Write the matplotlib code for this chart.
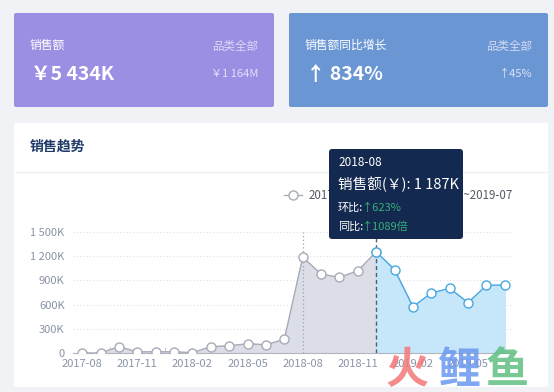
import matplotlib
matplotlib.use("Agg")
import matplotlib.pyplot as plt
from matplotlib.patches import FancyBboxPatch

plt.rcParams['font.family'] = ['Noto Sans CJK SC', 'DejaVu Sans']

# data
months = ['2017-08', '2017-09', '2017-10', '2017-11', '2017-12', '2018-01',
          '2018-02', '2018-03', '2018-04', '2018-05', '2018-06', '2018-07',
          '2018-08', '2018-09', '2018-10', '2018-11', '2018-12', '2019-01',
          '2019-02', '2019-03', '2019-04', '2019-05', '2019-06', '2019-07']
sales = [0, 0, 78, 15, 15, 15, 5, 78, 90, 115, 103, 170,
         1187, 979, 938, 1020, 1255, 1033, 574, 744, 802, 624, 839, 843]
split_idx = 16
legend_labels = ['2017-08~2018-12', '2018-12~2019-07']
yticks = [0, 300, 600, 900, 1200, 1500]
ytick_labels = ['0', '300K', '600K', '900K', '1 200K', '1 500K']
label_step = 3

cards = [
    ('销售额', '品类全部', '￥5 434K', '￥1 164M'),
    ('销售额同比增长', '品类全部', '↑ 834%', '↑45%'),
]
card_colors = ['#9b8fe4', '#6a96d4']
tip_title = '2018-08'
tip_value = '销售额(￥): 1 187K'
tip_mom = '↑623%'
tip_yoy = '↑1089倍'

W, H = 554, 392
fig = plt.figure(figsize=(W / 100, H / 100), dpi=100)
fig.patch.set_facecolor('#f0f2f5')


def box(x0, y0, x1, y1):
    return [x0 / W, 1 - y1 / H, (x1 - x0) / W, (y1 - y0) / H]


# background layer in pixel coords
bg = fig.add_axes([0, 0, 1, 1])
bg.set_xlim(0, W)
bg.set_ylim(H, 0)
bg.axis('off')

card_x = [(14, 274), (289, 548)]
for (x0, x1), col, (title, cat, big, small) in zip(card_x, card_colors, cards):
    bg.add_patch(FancyBboxPatch((x0, 13), x1 - x0, 94, boxstyle='round,pad=0,rounding_size=2',
                                fc=col, ec='none'))
    bg.text(x0 + 16, 45, title, color='white', fontsize=8.5, va='center')
    bg.text(x1 - 16, 46, cat, color='#e8e6fb', fontsize=8.3, va='center', ha='right', alpha=0.85)
    bg.text(x0 + 17, 74, big, color='white', fontsize=14, fontweight='bold', va='center')
    bg.text(x1 - 16, 74, small, color='#eeeefa', fontsize=8, va='center', ha='right', alpha=0.85)

# trend panel
bg.add_patch(FancyBboxPatch((14, 123), 534, 264, boxstyle='round,pad=0,rounding_size=2',
                            fc='white', ec='none'))
bg.plot([16, 546], [172, 172], color='#eceef2', lw=1)
bg.text(30, 147, '销售趋势', color='#1f3a68', fontsize=10, fontweight='bold', va='center')

# legend
for lx, tx, lab, col in [(293, 309, legend_labels[0], '#a8abb8'),
                         (410, 422, legend_labels[1], '#4aa8e0')]:
    bg.plot([lx - 9, lx + 9], [195, 195], color=col, lw=1)
    bg.plot([lx], [195], 'o', ms=6.5, mfc='white', mec=col, mew=1)
    bg.text(tx, 195, lab, color='#555a66', fontsize=8.3, va='center')

# chart
ax = fig.add_axes(box(73, 232, 514, 353))
ax.set_facecolor('none')
x = list(range(len(months)))
gx, gy = x[:split_idx + 1], sales[:split_idx + 1]
bx, by = x[split_idx:], sales[split_idx:]
ax.fill_between(gx, gy, 0, color='#dcdee7', zorder=1)
ax.fill_between(bx, by, 0, color='#c6e6fa', zorder=1)
ax.plot(gx, gy, color='#a8abb8', lw=1, zorder=3, marker='o', ms=6.5, mfc='white', mec='#a8abb8', mew=1)
ax.plot(bx, by, color='#4aa8e0', lw=1, zorder=3, marker='o', ms=6.5, mfc='white', mec='#4aa8e0', mew=1)
ax.plot([12, 12], [0, 1500], color='#9aa0b0', lw=0.9, ls=(0, (1, 2)), zorder=2)
ax.plot([split_idx, split_idx], [0, 1500], color='#4f5d78', lw=1, ls=(0, (3, 2)), zorder=2)

ax.set_xlim(-0.5, len(months) - 0.5)
ax.set_ylim(0, 1500)
ax.set_yticks(yticks)
ax.set_yticklabels(ytick_labels)
ax.yaxis.grid(True, color='#dfe2e8', lw=0.8, ls=(0, (1, 2)))
ax.set_axisbelow(True)
ax.set_xticks(x[::label_step])
ax.set_xticklabels(months[::label_step])
ax.set_xticks([i + 1.5 for i in range(0, len(months) - 2, label_step)], minor=True)
ax.tick_params(axis='x', which='major', length=0, labelsize=8, colors='#8a93a6', pad=4)
ax.tick_params(axis='x', which='minor', length=4, color='#b0b5c0', direction='in')
ax.tick_params(axis='y', length=0, labelsize=8, colors='#8a93a6', pad=6)
for s in ['top', 'right', 'left']:
    ax.spines[s].set_visible(False)
ax.spines['bottom'].set_color('#b0b5c0')

# overlay: tooltip and watermark
top = fig.add_axes([0, 0, 1, 1], zorder=10)
top.set_xlim(0, W)
top.set_ylim(H, 0)
top.axis('off')
top.patch.set_alpha(0)
top.add_patch(FancyBboxPatch((329, 149), 134, 90, boxstyle='round,pad=0,rounding_size=3',
                             fc='#13294f', ec='none'))
top.text(338, 162, tip_title, color='white', fontsize=8.5, va='center')
top.text(338, 184, tip_value, color='white', fontsize=10.5, va='center')
top.text(338, 208, '环比:', color='white', fontsize=8, va='center')
top.text(361, 208, tip_mom, color='#37b07a', fontsize=8, va='center')
top.text(338, 227, '同比:', color='#ffffff', fontsize=8, va='center')
top.text(361, 227, tip_yoy, color='#37b07a', fontsize=8, va='center')

for ch, cx, col in [('火', 407, '#f47878'), ('鲤', 459, '#6a98f0'), ('鱼', 507, '#5fbf80')]:
    top.text(cx, 370, ch, color=col, fontsize=31, fontweight='bold', ha='center', va='center', alpha=0.85)

fig.savefig('out.png', dpi=100, facecolor=fig.get_facecolor())
